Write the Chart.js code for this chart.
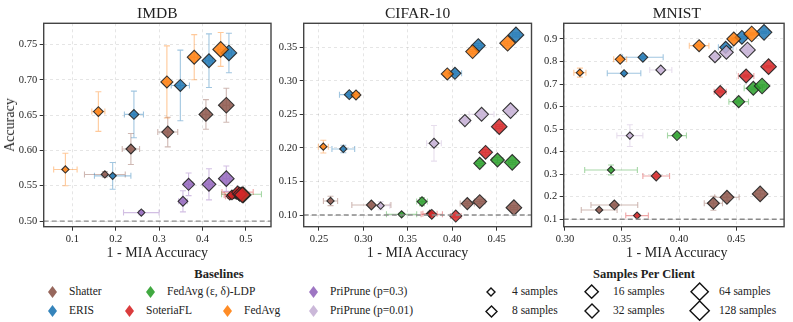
<!DOCTYPE html>
<html>
<head>
<meta charset="utf-8">
<title>Accuracy vs 1 - MIA Accuracy</title>
<script src="https://cdn.jsdelivr.net/npm/chart.js"></script>
<style>
  body { margin: 0; background: #fff; width: 793px; height: 322px; overflow: hidden; position: relative;
         font-family: 'Liberation Serif', serif; color: #222; }
  canvas { position: absolute; left: 0; top: 0; }
  .lbl { position: absolute; white-space: nowrap; transform: translate(-50%, -50%); line-height: 1; }
  .title { font-size: 15.5px; }
  .axis { font-size: 14px; }
  .ytitle { transform: translate(-50%, -50%) rotate(-90deg); }
  .legtitle { font-size: 12.5px; font-weight: bold; }
  .legtext { position: absolute; white-space: nowrap; font-size: 11.5px; transform: translateY(-50%); line-height: 1; }
  svg.mk { position: absolute; overflow: visible; }
</style>
</head>
<body>
<canvas id="imdb" width="793" height="250"></canvas>
<canvas id="cifar" width="793" height="250"></canvas>
<canvas id="mnist" width="793" height="250"></canvas>
<div id="labels"></div>

<script>
// Baselines, in drawing order
const baselineNames = ['Shatter', 'ERIS', 'FedAvg (\u03b5, \u03b4)-LDP', 'SoteriaFL', 'FedAvg', 'PriPrune (p=0.3)', 'PriPrune (p=0.01)'];
const baselineColors = ['#8c564b', '#1f77b4', '#2ca02c', '#d62728', '#ff7f0e', '#9467bd', '#c5b0d5'];

// samples per client of each point row (row i -> sampleSizes[i])
const sampleSizes = [4, 8, 16, 32, 64];
const legendSamples = [4, 8, 16, 32, 64, 128];

// each row: [1 - MIA acc, accuracy, x error, y error]
// IMDB
const imdbShatter = [[0.175, 0.566, 0.047, 0.004], [0.235, 0.602, 0.020, 0.022], [0.320, 0.626, 0.023, 0.021], [0.408, 0.651, 0.008, 0.021], [0.455, 0.664, 0.008, 0.024]];
const imdbEris = [[0.193, 0.564, 0.042, 0.019], [0.242, 0.651, 0.022, 0.033], [0.349, 0.692, 0.021, 0.050], [0.415, 0.727, 0.008, 0.038], [0.461, 0.738, 0.006, 0.028]];
const imdbLdp = [[0.472, 0.537, 0.010, 0.004], [0.478, 0.538, 0.010, 0.004], [0.484, 0.538, 0.012, 0.004], [0.490, 0.538, 0.046, 0.004], [0.494, 0.537, 0.012, 0.004]];
const imdbSoteria = [[0.463, 0.535, 0.010, 0.003], [0.468, 0.537, 0.018, 0.004], [0.481, 0.541, 0.036, 0.004], [0.486, 0.538, 0.010, 0.004], [0.492, 0.537, 0.008, 0.004]];
const imdbFedAvg = [[0.084, 0.573, 0.027, 0.023], [0.160, 0.655, 0.015, 0.028], [0.318, 0.697, 0.008, 0.051], [0.381, 0.732, 0.008, 0.032], [0.442, 0.743, 0.006, 0.024]];
const imdbPriPrune3 = [[0.259, 0.512, 0.041, 0.003], [0.355, 0.528, 0.010, 0.015], [0.368, 0.552, 0.010, 0.016], [0.415, 0.552, 0.008, 0.022], [0.455, 0.560, 0.008, 0.018]];
const imdbPriPrune01 = [];

// CIFAR-10
const cifarShatter = [[0.263, 0.121, 0.008, 0.007], [0.309, 0.115, 0.022, 0.003], [0.417, 0.117, 0.008, 0.003], [0.431, 0.120, 0.006, 0.003], [0.4695, 0.111, 0.004, 0.003]];
const cifarEris = [[0.2774, 0.1984, 0.0128, 0.0055], [0.2841, 0.2794, 0.011, 0.003], [0.4031, 0.3112, 0.0075, 0.003], [0.4294, 0.3525, 0.004, 0.003], [0.4718, 0.3684, 0.004, 0.003]];
const cifarLdp = [[0.343, 0.101, 0.017, 0.002], [0.366, 0.120, 0.006, 0.006], [0.431, 0.177, 0.004, 0.003], [0.451, 0.182, 0.006, 0.004], [0.4676, 0.1785, 0.004, 0.003]];
const cifarSoteria = [[0.375, 0.102, 0.008, 0.002], [0.377, 0.101, 0.012, 0.002], [0.404, 0.0985, 0.006, 0.002], [0.4376, 0.1934, 0.004, 0.004], [0.453, 0.2317, 0.004, 0.003]];
const cifarFedAvg = [[0.2549, 0.2019, 0.0056, 0.0095], [0.2917, 0.2789, 0.004, 0.003], [0.3945, 0.3102, 0.004, 0.003], [0.423, 0.3435, 0.004, 0.003], [0.4624, 0.356, 0.004, 0.003]];
const cifarPriPrune3 = [];
const cifarPriPrune01 = [[0.3194, 0.1139, 0.0103, 0.006], [0.3795, 0.2069, 0.0083, 0.0266], [0.4143, 0.2407, 0.006, 0.004], [0.4331, 0.2501, 0.014, 0.004], [0.4657, 0.2556, 0.004, 0.004]];

// MNIST
const mnistShatter = [[0.330, 0.1414, 0.0157, 0.004], [0.3433, 0.1636, 0.0205, 0.004], [0.4301, 0.171, 0.008, 0.031], [0.442, 0.1976, 0.0107, 0.015], [0.4711, 0.2124, 0.004, 0.015]];
const mnistEris = [[0.3518, 0.7477, 0.0147, 0.005], [0.3683, 0.8187, 0.0178, 0.005], [0.4409, 0.863, 0.0064, 0.005], [0.4551, 0.9074, 0.004, 0.005], [0.4745, 0.9296, 0.004, 0.005]];
const mnistLdp = [[0.3404, 0.3189, 0.0231, 0.022], [0.3982, 0.4712, 0.0083, 0.006], [0.4523, 0.622, 0.0086, 0.006], [0.4651, 0.6812, 0.008, 0.006], [0.4728, 0.6915, 0.004, 0.006]];
const mnistSoteria = [[0.3632, 0.1163, 0.0099, 0.005], [0.380, 0.2922, 0.0117, 0.005], [0.4361, 0.6664, 0.0053, 0.005], [0.4588, 0.7359, 0.0068, 0.005], [0.4785, 0.7773, 0.004, 0.005]];
const mnistFedAvg = [[0.3131, 0.7506, 0.0053, 0.02], [0.3484, 0.8098, 0.0057, 0.005], [0.4176, 0.8704, 0.0086, 0.005], [0.448, 0.90, 0.004, 0.005], [0.4637, 0.9222, 0.004, 0.005]];
const mnistPriPrune3 = [];
const mnistPriPrune01 = [[0.3569, 0.4712, 0.0114, 0.048], [0.384, 0.7625, 0.0097, 0.006], [0.4315, 0.8216, 0.004, 0.005], [0.4415, 0.8408, 0.004, 0.005], [0.460, 0.8512, 0.004, 0.012]];

// tick labels
const imdbXTicks = [0.1, 0.2, 0.3, 0.4, 0.5];
const imdbYTicks = [0.50, 0.55, 0.60, 0.65, 0.70, 0.75];
const cifarXTicks = [0.25, 0.30, 0.35, 0.40, 0.45];
const cifarYTicks = [0.10, 0.15, 0.20, 0.25, 0.30, 0.35];
const mnistXTicks = [0.30, 0.35, 0.40, 0.45];
const mnistYTicks = [0.1, 0.2, 0.3, 0.4, 0.5, 0.6, 0.7, 0.8, 0.9];

// random-guess accuracy per dataset
const imdbChance = 0.5, cifarChance = 0.1, mnistChance = 0.1;

// marker half-diagonal by samples per client
const markerRadius = { 4: 3.6, 8: 4.9, 16: 6.0, 32: 6.9, 64: 7.8 };
const FONT = "'Liberation Serif', serif";

function hexA(hex, a) {
  const n = parseInt(hex.slice(1), 16);
  return `rgba(${n >> 16}, ${(n >> 8) & 255}, ${n & 255}, ${a})`;
}

// error bars drawn under the markers, frame + chance line on top
const errorBars = {
  id: 'errorBars',
  beforeDatasetsDraw(chart) {
    const { ctx, scales: { x, y } } = chart;
    const cap = 3;
    ctx.save();
    ctx.lineWidth = 1.1;
    chart.data.datasets.forEach(ds => {
      ctx.strokeStyle = hexA(ds.baseColor, 0.42);
      ds.rows.forEach(p => {
        const px = x.getPixelForValue(p[0]), py = y.getPixelForValue(p[1]);
        const x0 = x.getPixelForValue(p[0] - p[2]), x1 = x.getPixelForValue(p[0] + p[2]);
        const y0 = y.getPixelForValue(p[1] - p[3]), y1 = y.getPixelForValue(p[1] + p[3]);
        ctx.beginPath();
        ctx.moveTo(x0, py); ctx.lineTo(x1, py);
        ctx.moveTo(px, y0); ctx.lineTo(px, y1);
        ctx.moveTo(x0, py - cap); ctx.lineTo(x0, py + cap);
        ctx.moveTo(x1, py - cap); ctx.lineTo(x1, py + cap);
        ctx.moveTo(px - cap, y0); ctx.lineTo(px + cap, y0);
        ctx.moveTo(px - cap, y1); ctx.lineTo(px + cap, y1);
        ctx.stroke();
      });
    });
    ctx.restore();
  },
  afterDatasetsDraw(chart, args, opts) {
    const { ctx, chartArea: a, scales: { y } } = chart;
    const cy = y.getPixelForValue(opts.chance);
    ctx.save();
    ctx.strokeStyle = '#8a8a8a';
    ctx.lineWidth = 1.3;
    ctx.setLineDash([5, 3]);
    ctx.beginPath(); ctx.moveTo(a.left, cy); ctx.lineTo(a.right, cy); ctx.stroke();
    ctx.setLineDash([]);
    ctx.strokeStyle = '#444';
    ctx.lineWidth = 1.4;
    ctx.strokeRect(a.left, a.top, a.right - a.left, a.bottom - a.top);
    ctx.restore();
  }
};

function makePanel(id, box, xLim, yLim, xTicks, yTicks, xDec, yDec, chance, series) {
  const datasets = [];
  series.forEach((rows, i) => {
    if (!rows.length) return;
    datasets.push({
      label: baselineNames[i],
      data: rows.map(p => ({ x: p[0], y: p[1] })),
      rows: rows,
      baseColor: baselineColors[i],
      pointStyle: 'rectRot',
      pointRadius: rows.map((p, j) => markerRadius[sampleSizes[j]]),
      backgroundColor: hexA(baselineColors[i], 0.85),
      borderColor: 'rgba(35, 35, 35, 0.9)',
      borderWidth: 1.1,
      order: -i
    });
  });
  const YW = 40, XH = 20;
  const tickFont = { family: FONT, size: 10.5 };
  new Chart(document.getElementById(id), {
    type: 'scatter',
    data: { datasets },
    options: {
      responsive: false,
      animation: false,
      events: [],
      layout: { padding: { left: box.left - YW, right: 793 - box.right, top: box.top, bottom: 250 - box.bottom - XH } },
      plugins: { legend: { display: false }, tooltip: { enabled: false }, errorBars: { chance } },
      scales: {
        x: {
          type: 'linear', min: xLim[0], max: xLim[1],
          afterBuildTicks: s => { s.ticks = xTicks.map(v => ({ value: v })); },
          afterFit: s => { s.height = XH; },
          ticks: { callback: v => v.toFixed(xDec), font: tickFont, color: '#222', padding: 2, maxRotation: 0, autoSkip: false },
          grid: { color: 'rgba(0,0,0,0.13)', lineWidth: 0.8, tickColor: '#333', tickLength: 4, tickWidth: 1 },
          border: { display: false, dash: [3, 3] }
        },
        y: {
          type: 'linear', min: yLim[0], max: yLim[1],
          afterBuildTicks: s => { s.ticks = yTicks.map(v => ({ value: v })); },
          afterFit: s => { s.width = YW; },
          ticks: { callback: v => v.toFixed(yDec), font: tickFont, color: '#222', padding: 2.5, autoSkip: false },
          grid: { color: 'rgba(0,0,0,0.13)', lineWidth: 0.8, tickColor: '#333', tickLength: 4, tickWidth: 1 },
          border: { display: false, dash: [3, 3] }
        }
      }
    },
    plugins: [errorBars]
  });
}

const imdbBox = { left: 43.7, right: 271, top: 23.3, bottom: 226.7 };
const cifarBox = { left: 303.7, right: 531.5, top: 23.3, bottom: 226.7 };
const mnistBox = { left: 563.7, right: 790, top: 23.3, bottom: 226.7 };

makePanel('imdb', imdbBox, [0.034, 0.558], [0.492, 0.780], imdbXTicks, imdbYTicks, 1, 2, imdbChance,
  [imdbShatter, imdbEris, imdbLdp, imdbSoteria, imdbFedAvg, imdbPriPrune3, imdbPriPrune01]);
makePanel('cifar', cifarBox, [0.2328, 0.4893], [0.0826, 0.3857], cifarXTicks, cifarYTicks, 2, 2, cifarChance,
  [cifarShatter, cifarEris, cifarLdp, cifarSoteria, cifarFedAvg, cifarPriPrune3, cifarPriPrune01]);
makePanel('mnist', mnistBox, [0.2989, 0.4921], [0.067, 0.9696], mnistXTicks, mnistYTicks, 2, 1, mnistChance,
  [mnistShatter, mnistEris, mnistLdp, mnistSoteria, mnistFedAvg, mnistPriPrune3, mnistPriPrune01]);

// titles, axis labels and the two legends as real text
const root = document.getElementById('labels');
function addText(cls, text, x, y) {
  const d = document.createElement('div');
  d.className = cls;
  d.textContent = text;
  d.style.left = x + 'px';
  d.style.top = y + 'px';
  root.appendChild(d);
}
function addDiamond(cx, cy, w, h, fill, stroke) {
  const ns = 'http://www.w3.org/2000/svg';
  const s = document.createElementNS(ns, 'svg');
  s.setAttribute('class', 'mk');
  s.setAttribute('width', w);
  s.setAttribute('height', h);
  s.style.left = (cx - w / 2) + 'px';
  s.style.top = (cy - h / 2) + 'px';
  const p = document.createElementNS(ns, 'polygon');
  p.setAttribute('points', `${w / 2},0 ${w},${h / 2} ${w / 2},${h} 0,${h / 2}`);
  p.setAttribute('fill', fill);
  if (stroke) { p.setAttribute('stroke', stroke); p.setAttribute('stroke-width', 1.4); }
  s.appendChild(p);
  root.appendChild(s);
}

[['IMDB', imdbBox], ['CIFAR-10', cifarBox], ['MNIST', mnistBox]].forEach(([name, b]) => {
  const cx = (b.left + b.right) / 2;
  addText('lbl title', name, cx, 13);
  addText('lbl axis', '1 - MIA Accuracy', cx, 253);
});
addText('lbl axis ytitle', 'Accuracy', 10, 125);

// Baselines legend
const rowY = [292, 311];
const baselineLegendPos = [[52, 0], [52, 1], [150, 0], [129, 1], [227, 1], [313, 0], [313, 1]];
addText('lbl legtitle', 'Baselines', 219, 274);
baselineNames.forEach((name, i) => {
  const [mx, r] = baselineLegendPos[i];
  addDiamond(mx, rowY[r], 9, 12, hexA(baselineColors[i], 0.9), null);
  addText('legtext', name, mx + 17, rowY[r]);
});

// Samples Per Client legend
const sampleLegendPos = [[491, 0], [491, 1], [592, 0], [592, 1], [700, 0], [700, 1]];
const sampleLegendSize = [8, 11, 13.3, 14, 17.3, 19.3];
addText('lbl legtitle', 'Samples Per Client', 644, 274);
legendSamples.forEach((n, i) => {
  const [mx, r] = sampleLegendPos[i];
  const w = sampleLegendSize[i];
  addDiamond(mx, rowY[r], w, w, 'none', '#111');
  addText('legtext', n + ' samples', mx + (i < 4 ? 21 : 19), rowY[r]);
});
</script>
</body>
</html>
